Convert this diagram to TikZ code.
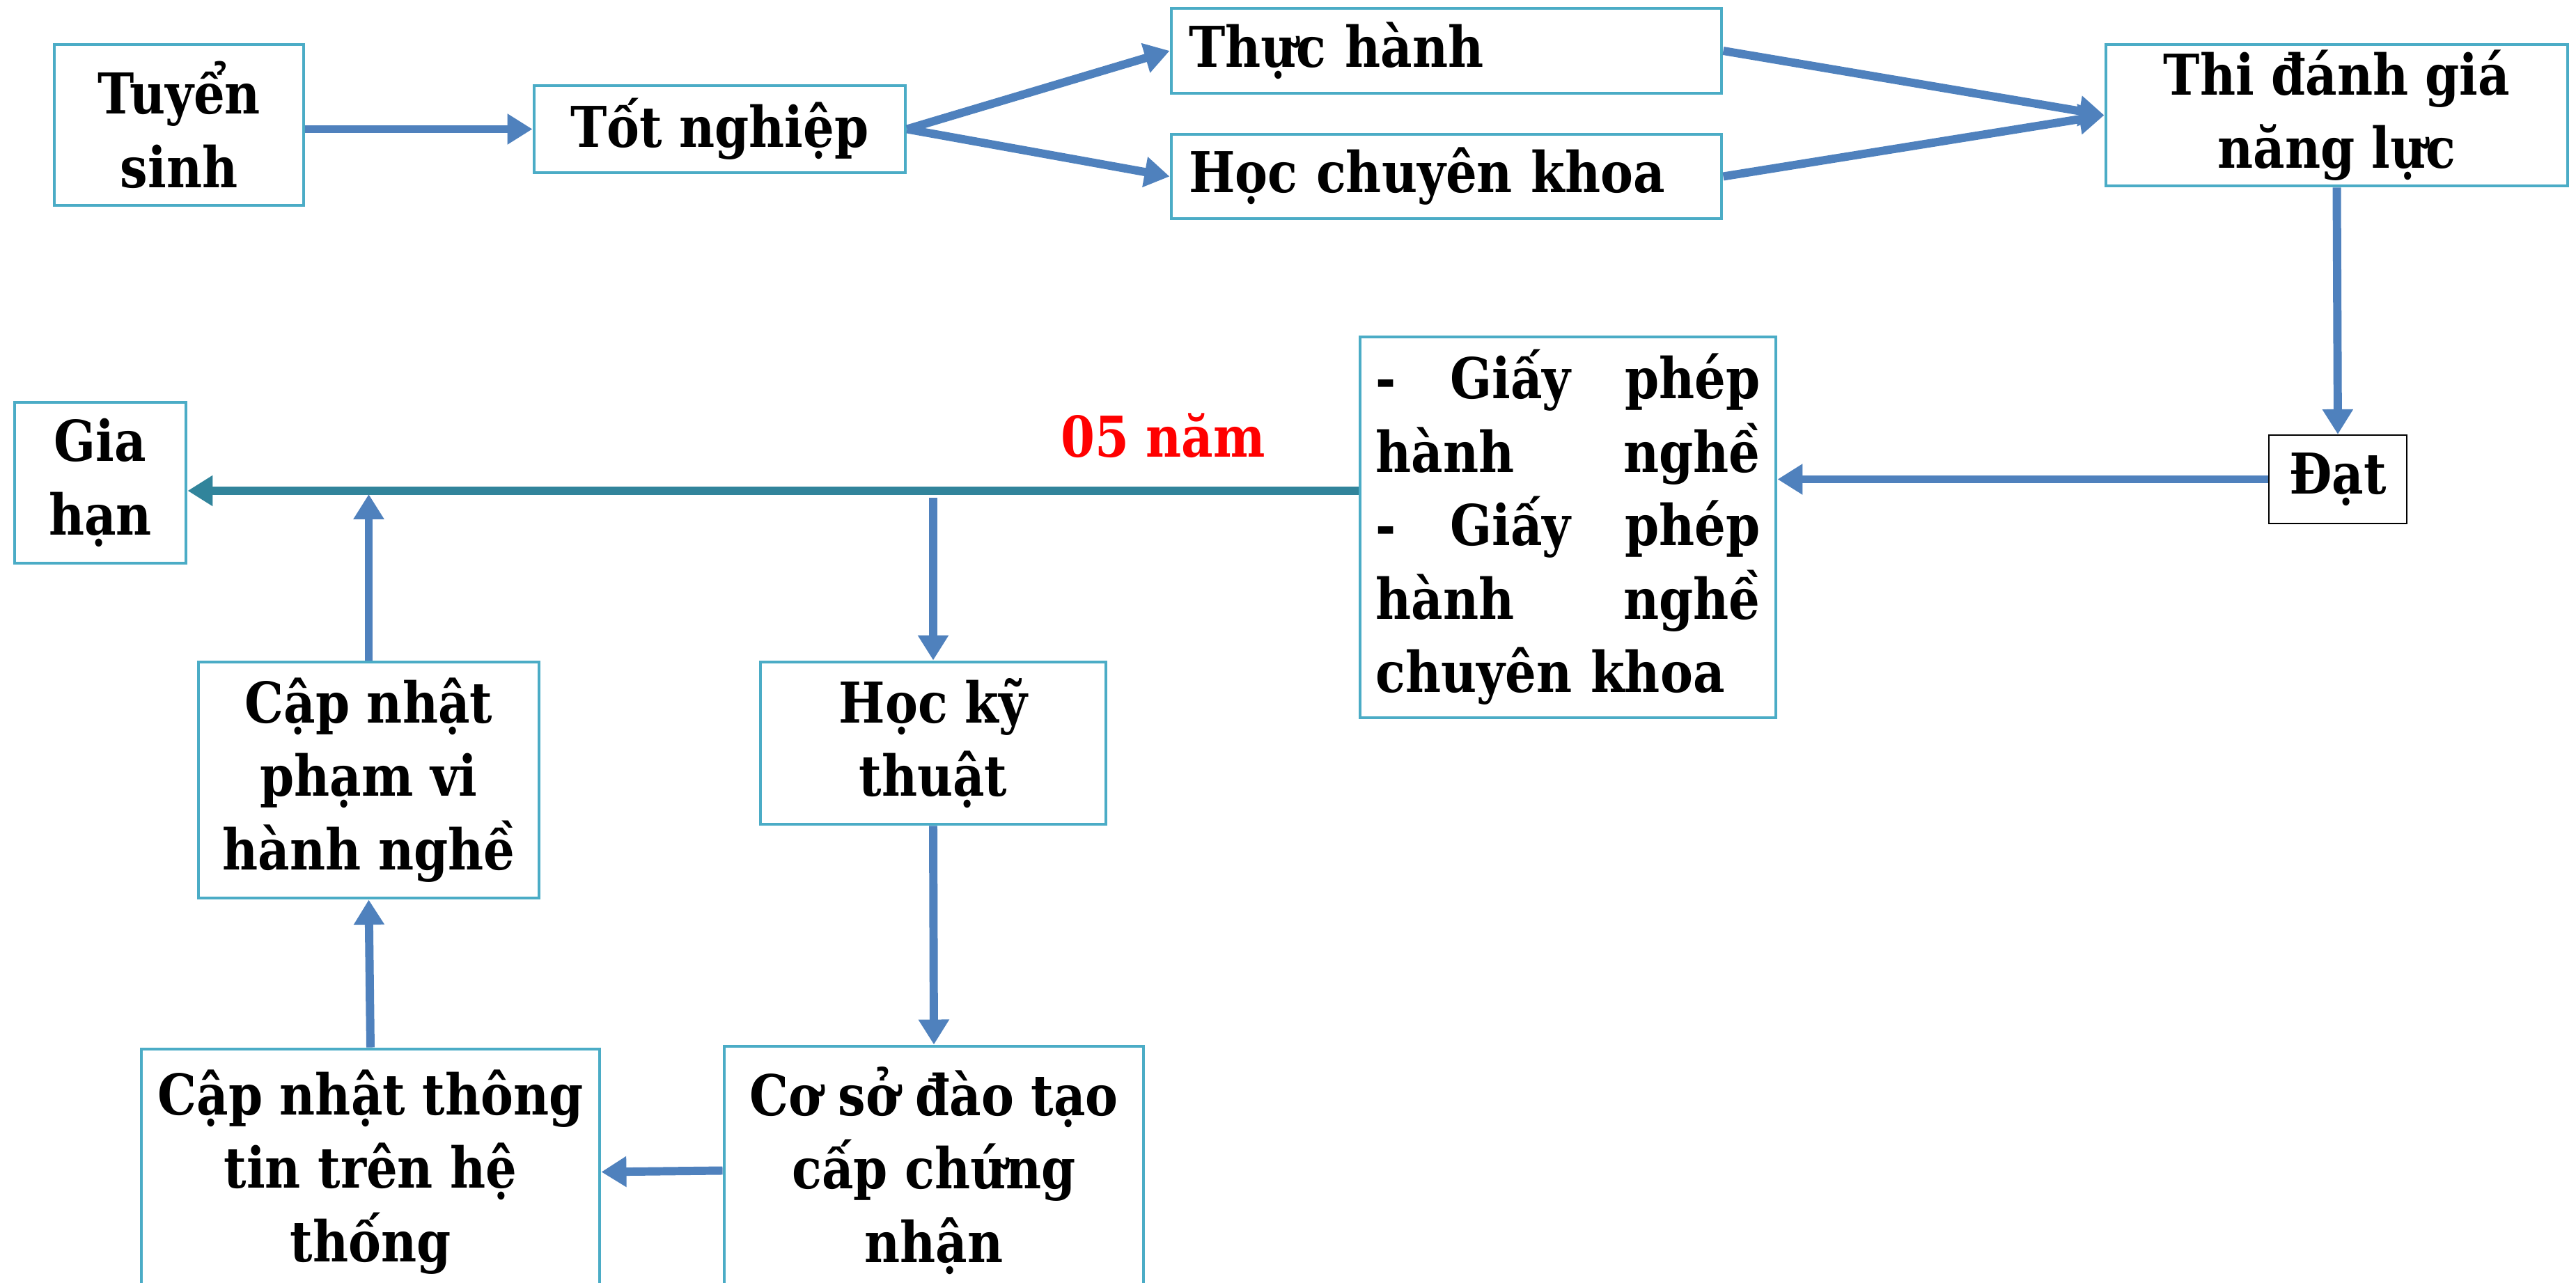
\documentclass[tikz,border=0pt]{standalone}
\usepackage{fontspec}
\newfontfamily\boxfont{DejaVu Serif Bold}[FakeStretch=0.87]
\usetikzlibrary{positioning,arrows.meta}
\definecolor{boxline}{HTML}{4BACC6}
\definecolor{arrowblue}{HTML}{4F81BD}
\definecolor{lineteal}{HTML}{31849B}
\tikzset{
  stagebox/.style={draw=boxline, line width=1.4pt, fill=white, align=center,
    inner sep=0pt, font=\boxfont\fontsize{23}{30}\selectfont},
  flow/.style={draw=arrowblue, line width=3.4pt, -{Triangle[length=0.36cm,width=0.42cm]}},
}
\newcommand{\spreadline}[1]{\leavevmode\hbox to 5.52cm{#1}}
\begin{document}
\begin{tikzpicture}
  \useasboundingbox (0,0) rectangle (36.99,-18.43);
  \node[stagebox, minimum width=3.58cm, minimum height=2.31cm] (tuyen) at (2.57,-1.795) {Tuyển\\sinh};
  \node[stagebox, minimum width=5.33cm, minimum height=1.25cm] (totnghiep) at (10.335,-1.855) {Tốt nghiệp};
  \node[stagebox, text width=7.4cm, inner xsep=0.25cm, align=left, minimum height=1.22cm] (thuchanh) at (20.77,-0.73) {Thực hành};
  \node[stagebox, text width=7.4cm, inner xsep=0.25cm, align=left, minimum height=1.21cm] (hocck) at (20.77,-2.535) {Học chuyên khoa};
  \node[stagebox, minimum width=6.63cm, minimum height=2.03cm] (thi) at (33.555,-1.655) {Thi đánh giá\\năng lực};
  \node[stagebox, draw=black, line width=0.6pt, minimum width=1.98cm, minimum height=1.27cm] (dat) at (33.57,-6.885) {Đạt};
  \node[stagebox, text width=5.52cm, inner xsep=0.225cm, align=left, minimum height=5.47cm] (giayphep) at (22.515,-7.575)
    {\spreadline{-\hfill Giấy\hfill phép}\\\spreadline{hành\hfill nghề}\\\spreadline{-\hfill Giấy\hfill phép}\\\spreadline{hành\hfill nghề}\\chuyên khoa};
  \node[stagebox, minimum width=2.46cm, minimum height=2.31cm] (giahan) at (1.44,-6.935) {Gia\\hạn};
  \node[stagebox, minimum width=4.96cm, minimum height=2.33cm] (hockt) at (13.4,-10.675) {Học kỹ\\thuật};
  \node[stagebox, minimum width=6.02cm, minimum height=3.57cm] (coso) at (13.41,-16.815) {Cơ sở đào tạo\\cấp chứng\\nhận};
  \node[stagebox, minimum width=6.58cm, minimum height=3.53cm] (capnhattt) at (5.32,-16.835) {Cập nhật thông\\tin trên hệ\\thống};
  \node[stagebox, minimum width=4.89cm, minimum height=3.39cm] (capnhatpv) at (5.295,-11.205) {Cập nhật\\phạm vi\\hành nghề};
  \coordinate (mainR) at (giayphep.west |- 0,-7.05);
  \node[font=\boxfont\fontsize{23}{30}\selectfont, text=red, anchor=base] (nam) at (16.70,-6.57) {05 năm};

  \draw[flow] (totnghiep.west -| tuyen.east) -- (totnghiep.west);
  \draw[flow] (totnghiep.east) -- (thuchanh.west);
  \draw[flow] (totnghiep.east) -- (hocck.west);
  \draw[flow] (thuchanh.east) -- (thi.west);
  \draw[flow] (hocck.east) -- (thi.west);
  \draw[flow] (thi.south) -- (dat.north);
  \draw[flow] (dat.west) -- (dat.west -| giayphep.east);
  \draw[flow, draw=lineteal, fill=lineteal] (mainR) -- (giahan.east |- mainR);
  \draw[flow, shorten <=0.1cm] (hockt.north |- mainR) -- (hockt.north);
  \draw[flow] (hockt.south) -- (coso.north);
  \draw[flow] (coso.west) -- (capnhattt.east);
  \draw[flow] (capnhattt.north) -- (capnhatpv.south);
  \draw[flow, shorten >=0.05cm] (capnhatpv.north) -- (capnhatpv.north |- mainR);
\end{tikzpicture}
\end{document}
